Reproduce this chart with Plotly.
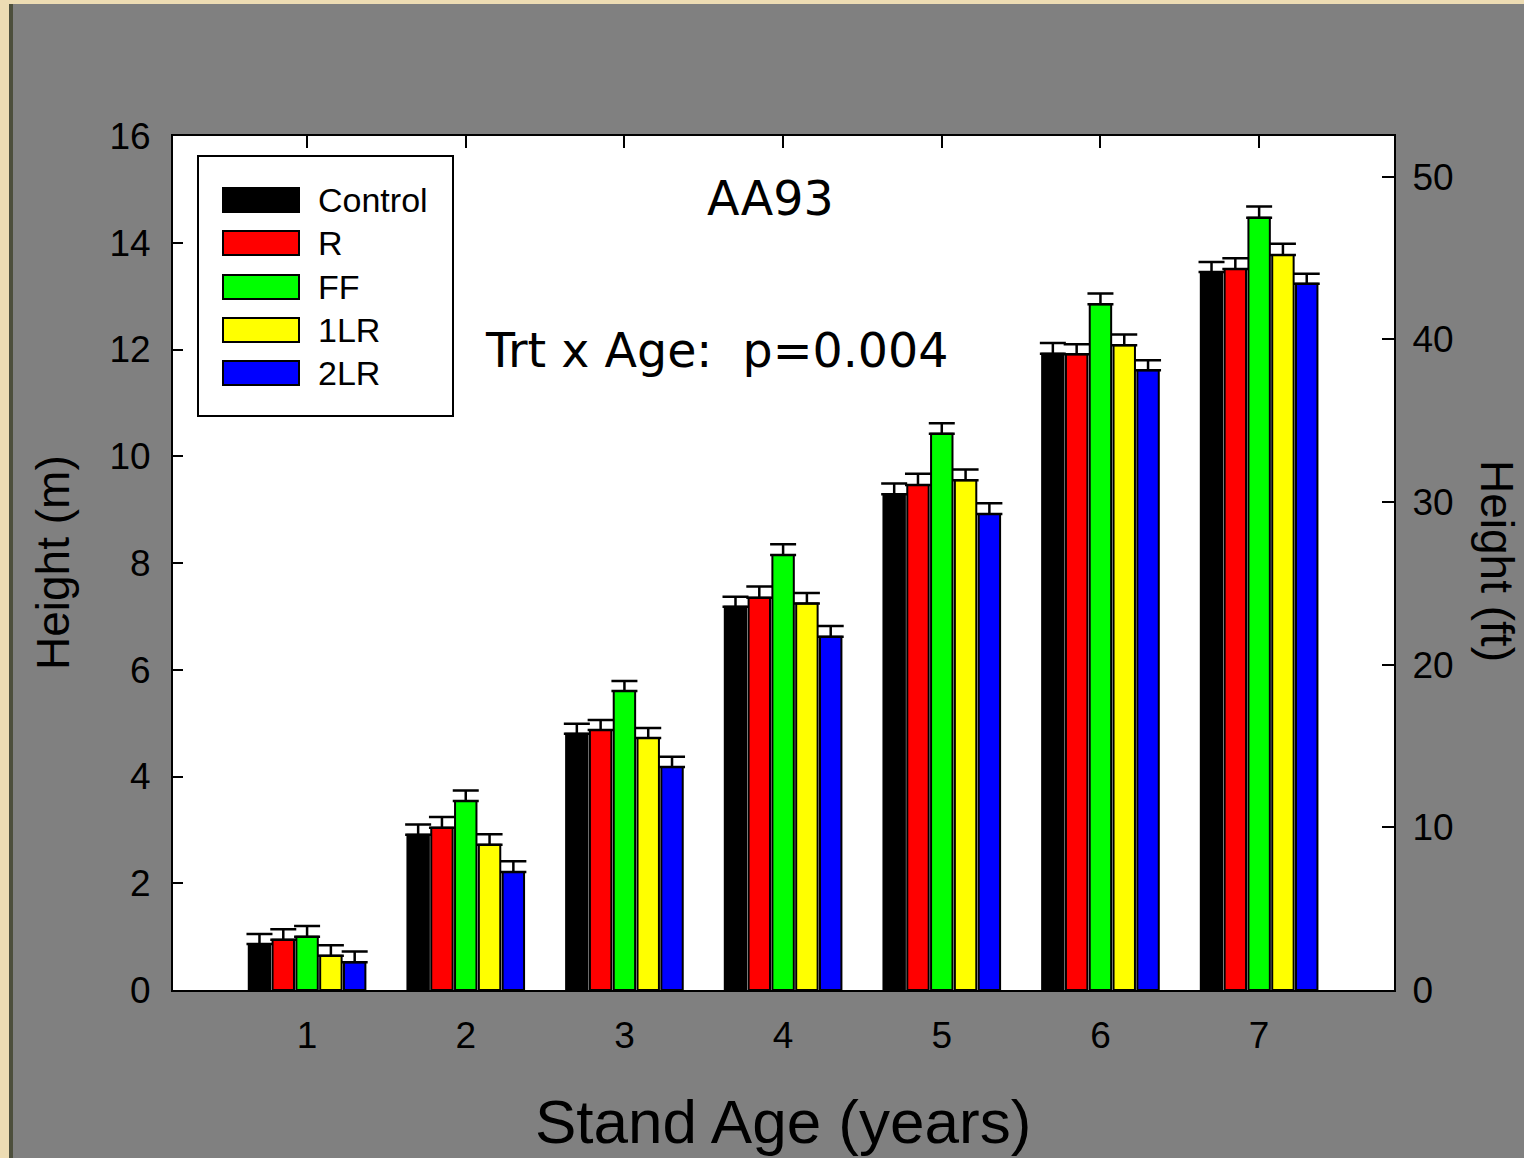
import plotly.graph_objects as go

# ---- data ----
ages = [1, 2, 3, 4, 5, 6, 7]
treatments = ["Control", "R", "FF", "1LR", "2LR"]
colors = ["#000000", "#ff0000", "#00ff00", "#ffff00", "#0000ff"]

control = [0.86, 2.91, 4.80, 7.18, 9.29, 11.92, 13.45]
r_trt = [0.94, 3.04, 4.87, 7.35, 9.46, 11.91, 13.51]
ff = [1.00, 3.54, 5.60, 8.15, 10.42, 12.85, 14.47]
lr1 = [0.64, 2.72, 4.72, 7.24, 9.55, 12.08, 13.77]
lr2 = [0.52, 2.21, 4.18, 6.62, 8.92, 11.61, 13.23]

control_err = [0.19, 0.19, 0.19, 0.19, 0.20, 0.20, 0.19]
r_err = [0.20, 0.20, 0.19, 0.21, 0.21, 0.19, 0.20]
ff_err = [0.20, 0.20, 0.19, 0.20, 0.20, 0.20, 0.21]
lr1_err = [0.20, 0.20, 0.19, 0.20, 0.20, 0.20, 0.21]
lr2_err = [0.20, 0.20, 0.19, 0.20, 0.20, 0.19, 0.19]

series = [control, r_trt, ff, lr1, lr2]
errors = [control_err, r_err, ff_err, lr1_err, lr2_err]

y_ticks_m = [0, 2, 4, 6, 8, 10, 12, 14, 16]
y_ticks_ft = [0, 10, 20, 30, 40, 50]
M_PER_FT = 0.3048

# ---- pixel helpers for paper coords ----
W, H = 1524, 1158
L, R, T, B = 173, 130, 136, 168
PW, PH = W - L - R, H - T - B


def px(x):
    return (x - L) / PW


def py(y):
    return 1 - (y - T) / PH


fig = go.Figure()

for name, col, vals, err in zip(treatments, colors, series, errors):
    fig.add_trace(go.Bar(
        x=ages, y=vals, name=name,
        marker=dict(color=col, line=dict(color="black", width=2)),
        error_y=dict(type="data", symmetric=False, array=err,
                     arrayminus=[0] * len(err), color="black",
                     thickness=2.5, width=13),
        showlegend=False,
    ))

# register the secondary (ft) axis
fig.add_trace(go.Scatter(x=[], y=[], yaxis="y2", showlegend=False))

font_tick = dict(family="Liberation Sans, Arial", size=37, color="black")

fig.update_layout(
    width=W, height=H,
    margin=dict(l=L, r=R, t=T, b=B, pad=0),
    paper_bgcolor="#808080",
    plot_bgcolor="white",
    barmode="group",
    bargap=0.25,
    bargroupgap=0.1,
    xaxis=dict(
        range=[0.155, 7.85], tickvals=ages, ticktext=[str(a) for a in ages],
        ticks="inside", ticklen=12, tickwidth=2, tickcolor="black",
        showline=True, linecolor="black", linewidth=2, mirror="ticks",
        showgrid=False, zeroline=False, layer="below traces",
        tickfont=font_tick, ticklabelstandoff=12,
    ),
    yaxis=dict(
        range=[0, 16], tickvals=y_ticks_m,
        ticks="inside", ticklen=10, tickwidth=2, tickcolor="black",
        showline=True, linecolor="black", linewidth=2, mirror=True,
        showgrid=False, zeroline=False,
        tickfont=font_tick, ticklabelstandoff=13,
    ),
    yaxis2=dict(
        overlaying="y", side="right",
        range=[0, 16 / M_PER_FT], tickvals=y_ticks_ft,
        ticks="inside", ticklen=12, tickwidth=2, tickcolor="black",
        showline=True, linecolor="black", linewidth=2,
        showgrid=False, zeroline=False,
        tickfont=font_tick, ticklabelstandoff=9,
    ),
)

shapes = []
# textured border strip (left and top)
shapes.append(dict(type="rect", xref="paper", yref="paper", layer="below",
                   x0=px(0), x1=px(10), y0=py(H), y1=py(0),
                   fillcolor="#eddcb3", line=dict(width=0)))
shapes.append(dict(type="rect", xref="paper", yref="paper", layer="below",
                   x0=px(9), x1=px(13), y0=py(H), y1=py(4),
                   fillcolor="#4d4f3c", line=dict(width=0)))
shapes.append(dict(type="rect", xref="paper", yref="paper", layer="below",
                   x0=px(0), x1=px(W), y0=py(4), y1=py(0),
                   fillcolor="#eddcb3", line=dict(width=0)))

# custom legend box
shapes.append(dict(type="rect", xref="paper", yref="paper",
                   x0=px(198), x1=px(453), y0=py(416), y1=py(156),
                   fillcolor="white", line=dict(color="black", width=2)))
annotations = []
centers = [200, 243, 287, 330, 373]
for name, col, cy in zip(treatments, colors, centers):
    shapes.append(dict(type="rect", xref="paper", yref="paper",
                       x0=px(223), x1=px(299), y0=py(cy + 12), y1=py(cy - 12),
                       fillcolor=col, line=dict(color="black", width=2)))
    annotations.append(dict(xref="paper", yref="paper", x=px(316), y=py(cy),
                            xanchor="left", yanchor="middle", showarrow=False,
                            text=name,
                            font=dict(family="Liberation Sans, Arial", size=34,
                                      color="black")))

annotations += [
    dict(xref="paper", yref="paper", x=px(770), y=py(199), xanchor="center",
         yanchor="middle", showarrow=False, text="AA93",
         font=dict(family="DejaVu Sans", size=47.5, color="black")),
    dict(xref="paper", yref="paper", x=px(483), y=py(350), xanchor="left",
         yanchor="middle", showarrow=False, text="Trt x Age:  p=0.004",
         font=dict(family="DejaVu Sans", size=47.5, color="black")),
    dict(xref="paper", yref="paper", x=px(53), y=py(563), xanchor="center",
         yanchor="middle", showarrow=False, text="Height (m)", textangle=-90,
         font=dict(family="Liberation Sans, Arial", size=46, color="black")),
    dict(xref="paper", yref="paper", x=px(1497), y=py(561), xanchor="center",
         yanchor="middle", showarrow=False, text="Height (ft)", textangle=90,
         font=dict(family="Liberation Sans, Arial", size=46, color="black")),
    dict(xref="paper", yref="paper", x=px(783), y=py(1121), xanchor="center",
         yanchor="middle", showarrow=False, text="Stand Age (years)",
         font=dict(family="Liberation Sans, Arial", size=62, color="black")),
]

fig.update_layout(shapes=shapes, annotations=annotations)

fig.write_html("out.html")
